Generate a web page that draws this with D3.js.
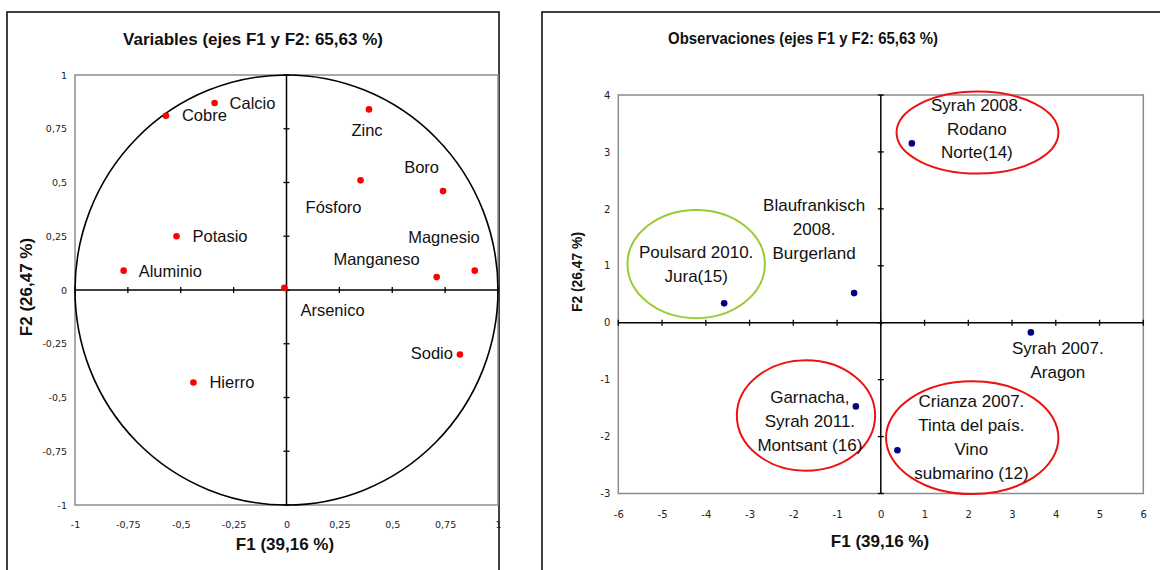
<!DOCTYPE html>
<html>
<head>
<meta charset="utf-8">
<script src="https://cdn.jsdelivr.net/npm/d3@7"></script>
<style>
  html, body { margin: 0; padding: 0; background: #fff; }
  svg { display: block; }
  .lbl { font-family: "Liberation Sans", Arial, sans-serif; fill: #111; }
  .tick-lbl { font-family: "DejaVu Sans", Verdana, sans-serif; fill: #222; }
  .ttl { font-family: "Liberation Sans", Arial, sans-serif; font-weight: bold; fill: #111; }
</style>
</head>
<body>
<svg id="chart" width="1160" height="570"></svg>
<script>
// ---- Variables (correlation circle) ----
const varNames = ["Calcio", "Cobre", "Potasio", "Aluminio", "Arsenico", "Zinc",
                  "Fósforo", "Boro", "Magnesio", "Manganeso", "Sodio", "Hierro"];
const varF1 = [-0.34, -0.57, -0.52, -0.77, -0.01, 0.39, 0.35, 0.74, 0.89, 0.71, 0.82, -0.44];
const varF2 = [0.87, 0.81, 0.25, 0.09, 0.01, 0.84, 0.51, 0.46, 0.09, 0.06, -0.30, -0.43];
const varTicks = [-1, -0.75, -0.5, -0.25, 0, 0.25, 0.5, 0.75, 1];

// ---- Observations ----
const obsLabels = [
  ["Poulsard 2010.", "Jura(15)"],
  ["Blaufrankisch", "2008.", "Burgerland"],
  ["Syrah 2008.", "Rodano", "Norte(14)"],
  ["Syrah 2007.", "Aragon"],
  ["Garnacha,", "Syrah 2011.", "Montsant (16)"],
  ["Crianza 2007.", "Tinta del país.", "Vino", "submarino (12)"]
];
const obsF1 = [-3.58, -0.61, 0.71, 3.43, -0.57, 0.38];
const obsF2 = [0.34, 0.52, 3.15, -0.17, -1.47, -2.24];
const obsXTicks = [-6, -5, -4, -3, -2, -1, 0, 1, 2, 3, 4, 5, 6];
const obsYTicks = [-3, -2, -1, 0, 1, 2, 3, 4];

// Highlight ellipses around groups of observations (centre and radii in F1/F2 units)
const groupCx = [-4.22, 2.21, -1.71, 2.09];
const groupCy = [1.03, 3.34, -1.63, -2.02];
const groupRx = [1.57, 1.85, 1.58, 1.97];
const groupRy = [0.95, 0.72, 0.97, 0.99];
const groupColor = ["#99cc33", "#ee1111", "#ee1111", "#ee1111"];

const titleLeft = "Variables (ejes F1 y F2: 65,63 %)";
const titleRight = "Observaciones (ejes F1 y F2: 65,63 %)";
const axisF1 = "F1 (39,16 %)";
const axisF2 = "F2 (26,47 %)";

// Label placement (pixel offsets from each point)
const varLabelPos = {
  "Calcio":    {dx: 15, dy: 6, a: "start"},
  "Cobre":     {dx: 16, dy: 5.5, a: "start"},
  "Potasio":   {dx: 16, dy: 6, a: "start"},
  "Aluminio":  {dx: 15, dy: 6, a: "start"},
  "Arsenico":  {dx: 16, dy: 28, a: "start"},
  "Zinc":      {dx: -2, dy: 27, a: "middle"},
  "Fósforo":   {dx: 1, dy: 33, a: "end"},
  "Boro":      {dx: -4, dy: -18, a: "end"},
  "Magnesio":  {dx: 5, dy: -28, a: "end"},
  "Manganeso": {dx: -17, dy: -12, a: "end"},
  "Sodio":     {dx: -7, dy: 4.5, a: "end"},
  "Hierro":    {dx: 16, dy: 5.5, a: "start"}
};
const obsLabelPos = [
  {dx: -28, dy: -45}, {dx: -40, dy: -82}, {dx: 65, dy: -32.6},
  {dx: 27, dy: 22}, {dx: -46, dy: -3.4}, {dx: 74, dy: -43}
];

const svg = d3.select("#chart");
const comma = d => String(d).replace(".", ",");

// Panel frames
svg.append("rect").attr("x", 7).attr("y", 12).attr("width", 492).attr("height", 600)
  .attr("fill", "none").attr("stroke", "#111").attr("stroke-width", 1.6);
svg.append("rect").attr("x", 542).attr("y", 12).attr("width", 640).attr("height", 600)
  .attr("fill", "none").attr("stroke", "#111").attr("stroke-width", 1.6);

function drawFrame(g, x, y, xt, yt, opts) {
  const [x0, x1] = x.range(), [y0, y1] = y.range();
  // plot border
  g.append("rect").attr("x", x0).attr("y", y1).attr("width", x1 - x0).attr("height", y0 - y1)
    .attr("fill", "none").attr("stroke", "#8c8c8c").attr("stroke-width", 1.5);
  // axes through the origin
  g.append("line").attr("x1", x0).attr("x2", x1).attr("y1", y(0)).attr("y2", y(0))
    .attr("stroke", "#000").attr("stroke-width", 1.5);
  g.append("line").attr("x1", x(0)).attr("x2", x(0)).attr("y1", y0).attr("y2", y1)
    .attr("stroke", "#000").attr("stroke-width", 1.5);
  // crossing tick marks
  g.selectAll(null).data(xt).join("line")
    .attr("x1", d => x(d)).attr("x2", d => x(d))
    .attr("y1", y(0) - 3).attr("y2", y(0) + 3)
    .attr("stroke", "#000").attr("stroke-width", 1.3);
  g.selectAll(null).data(yt).join("line")
    .attr("x1", x(0) - 3).attr("x2", x(0) + 3)
    .attr("y1", d => y(d)).attr("y2", d => y(d))
    .attr("stroke", "#000").attr("stroke-width", 1.3);
  // tick labels along the border
  const ax = d3.axisBottom(x).tickValues(xt).tickFormat(comma).tickSize(0).tickPadding(opts.xpad);
  const gx = g.append("g").attr("transform", `translate(0,${y0})`).call(ax);
  const ay = d3.axisLeft(y).tickValues(yt).tickFormat(comma).tickSize(0).tickPadding(opts.ypad);
  const gy = g.append("g").attr("transform", `translate(${x0},0)`).call(ay);
  [gx, gy].forEach(a => {
    a.select(".domain").remove();
    a.selectAll("text").attr("class", "tick-lbl").attr("font-size", opts.fs)
      .attr("font-family", null).attr("fill", null);
  });
  gx.attr("font-family", null).attr("font-size", null);
  gy.attr("font-family", null).attr("font-size", null);
}

// ---------- Left panel ----------
const xL = d3.scaleLinear().domain([-1, 1]).range([75, 498]);
const yL = d3.scaleLinear().domain([-1, 1]).range([505, 75]);
const gL = svg.append("g");

drawFrame(gL, xL, yL, varTicks, varTicks, {fs: 9.5, xpad: 16, ypad: 8});

// unit circle
gL.append("ellipse").attr("cx", xL(0)).attr("cy", yL(0))
  .attr("rx", xL(1) - xL(0)).attr("ry", yL(0) - yL(1))
  .attr("fill", "none").attr("stroke", "#000").attr("stroke-width", 1.6);

const vars = varNames.map((n, i) => ({name: n, x: varF1[i], y: varF2[i]}));
gL.selectAll(null).data(vars).join("circle")
  .attr("cx", d => xL(d.x)).attr("cy", d => yL(d.y)).attr("r", 3.3)
  .attr("fill", "#ff0000");
gL.selectAll(null).data(vars).join("text")
  .attr("class", "lbl").attr("font-size", 16.5)
  .attr("x", d => xL(d.x) + varLabelPos[d.name].dx)
  .attr("y", d => yL(d.y) + varLabelPos[d.name].dy)
  .attr("text-anchor", d => varLabelPos[d.name].a)
  .text(d => d.name);

gL.append("text").attr("class", "ttl").attr("font-size", 17)
  .attr("x", 253).attr("y", 45).attr("text-anchor", "middle").text(titleLeft);
gL.append("text").attr("class", "ttl").attr("font-size", 17)
  .attr("x", 285).attr("y", 550).attr("text-anchor", "middle").text(axisF1);
gL.append("text").attr("class", "ttl").attr("font-size", 17)
  .attr("transform", "translate(32,287) rotate(-90)").attr("text-anchor", "middle").text(axisF2);

// ---------- Right panel ----------
const xR = d3.scaleLinear().domain([-6, 6]).range([618.3, 1143.3]);
const yR = d3.scaleLinear().domain([-3, 4]).range([493.5, 95]);
const gR = svg.append("g");

drawFrame(gR, xR, yR, obsXTicks, obsYTicks, {fs: 10, xpad: 17, ypad: 8});

// group ellipses
gR.selectAll(null).data(groupCx).join("ellipse")
  .attr("cx", (d, i) => xR(d)).attr("cy", (d, i) => yR(groupCy[i]))
  .attr("rx", (d, i) => xR(groupRx[i]) - xR(0))
  .attr("ry", (d, i) => yR(0) - yR(groupRy[i]))
  .attr("fill", "none").attr("stroke", (d, i) => groupColor[i]).attr("stroke-width", 2);

const obs = obsLabels.map((l, i) => ({lines: l, x: obsF1[i], y: obsF2[i], pos: obsLabelPos[i]}));
gR.selectAll(null).data(obs).join("circle")
  .attr("cx", d => xR(d.x)).attr("cy", d => yR(d.y)).attr("r", 3.3)
  .attr("fill", "#000080");
const ot = gR.selectAll(null).data(obs).join("text")
  .attr("class", "lbl").attr("font-size", 17).attr("text-anchor", "middle");
ot.each(function (d) {
  const t = d3.select(this);
  d.lines.forEach((line, k) => {
    t.append("tspan")
      .attr("x", xR(d.x) + d.pos.dx)
      .attr("y", yR(d.y) + d.pos.dy + k * 23.8)
      .text(line);
  });
});

// condensed bold title and vertical axis name
gR.append("text").attr("class", "ttl").attr("font-size", 17)
  .attr("x", 668).attr("y", 44)
  .attr("textLength", 270).attr("lengthAdjust", "spacingAndGlyphs").text(titleRight);
gR.append("text").attr("class", "ttl").attr("font-size", 17)
  .attr("x", 880).attr("y", 547).attr("text-anchor", "middle").text(axisF1);
gR.append("text").attr("class", "ttl").attr("font-size", 15)
  .attr("transform", "translate(582,312) rotate(-90)")
  .attr("textLength", 80).attr("lengthAdjust", "spacingAndGlyphs").text(axisF2);
</script>
</body>
</html>
